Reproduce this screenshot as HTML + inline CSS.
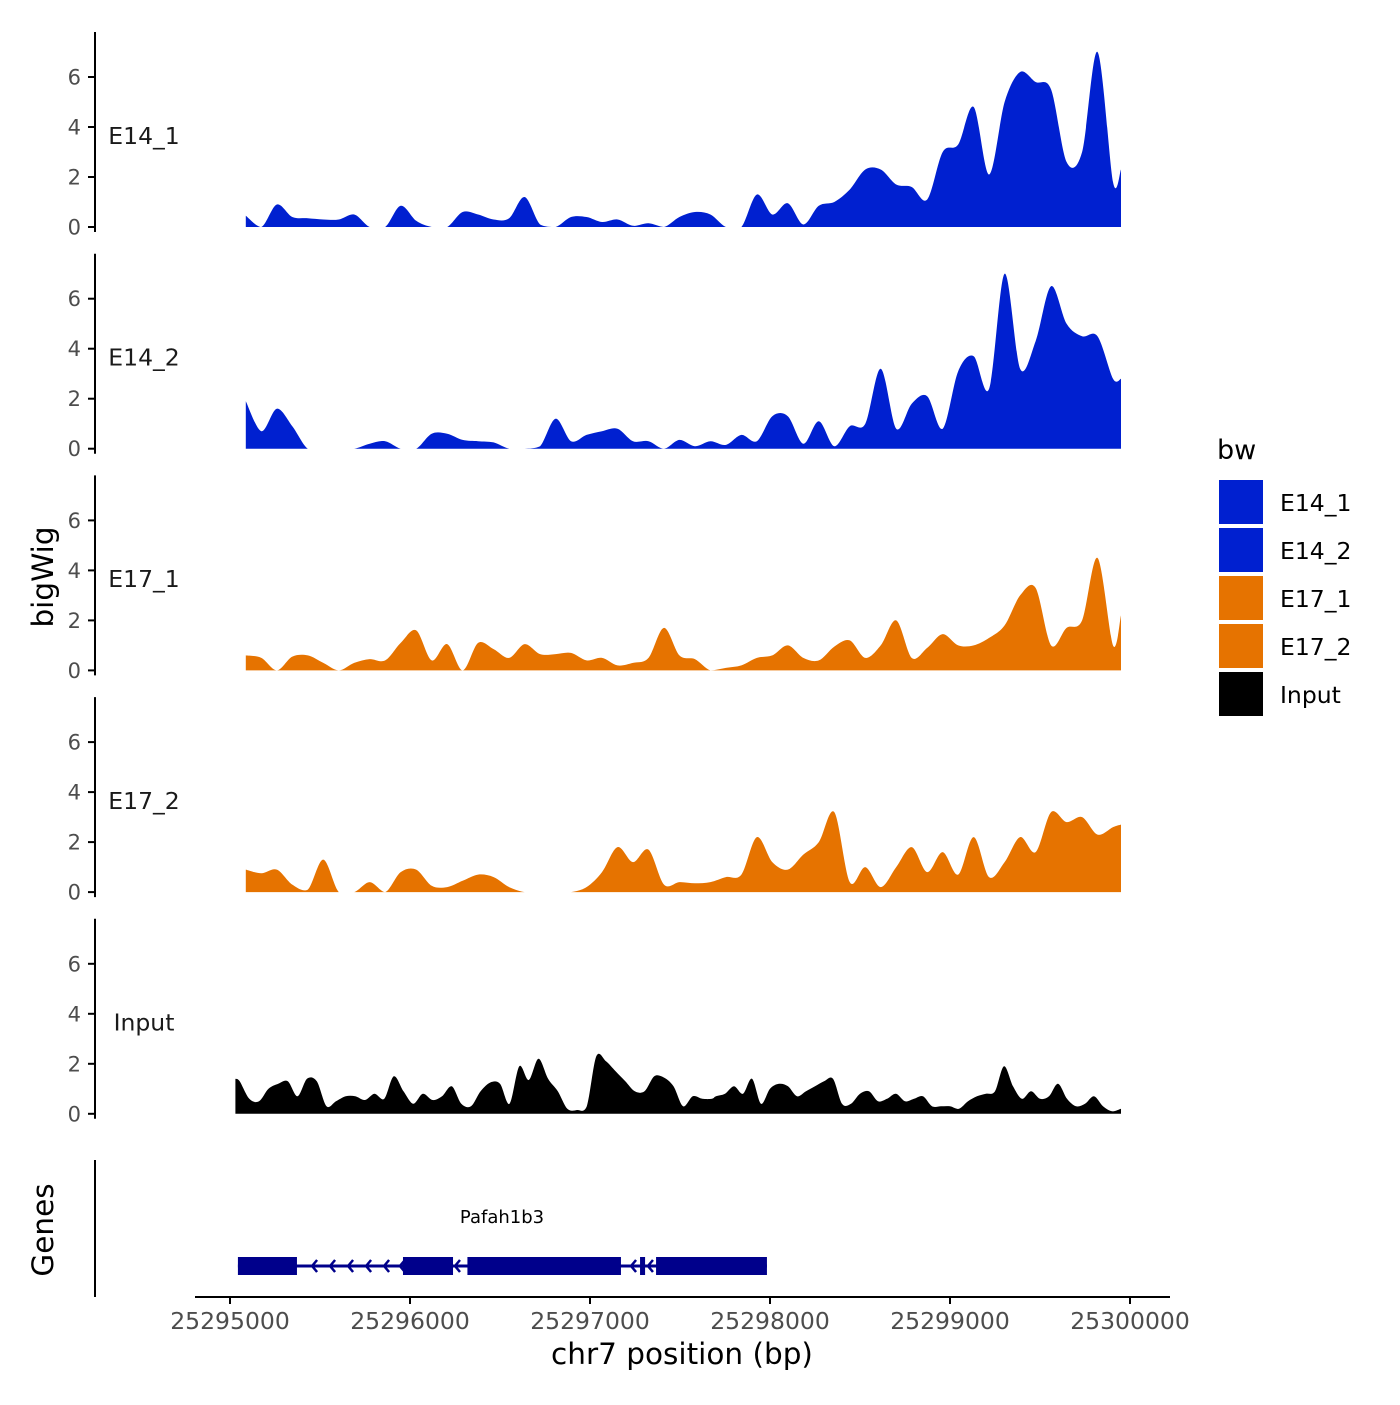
<!DOCTYPE html>
<html><head><meta charset="utf-8"><style>
body{margin:0;background:#fff;}
svg text{font-family:"DejaVu Sans","Liberation Sans",sans-serif;}
</style></head><body>
<svg id="chart" width="1400" height="1400" viewBox="0 0 1400 1400" xmlns="http://www.w3.org/2000/svg"></svg>
<script>
const sampleIdx = [1,2,3,4,5,6,7,8,9,10,11,12,13,14,15,16,17,18,19,20,21,22,23,24,25,26,27,28,29,30,31,32,33,34,35,36,37,38,39,40,41,42,43,44,45,46,47,48,49,50,51,52,53,54,55,56,57];
const endPos = 25299950;
const e14_1 = [0.45,0,0.9,0.4,0.35,0.3,0.3,0.5,0,0,0.85,0.25,0,0,0.6,0.5,0.3,0.35,1.2,0.1,0,0.4,0.4,0.2,0.3,0.05,0.15,0,0.4,0.6,0.5,0,0,1.3,0.5,0.95,0.1,0.85,1.0,1.5,2.3,2.3,1.7,1.6,1.1,3.0,3.3,4.8,2.1,5.0,6.2,5.8,5.5,2.6,3.0,7.0,1.8,2.3];
const e14_2 = [1.9,0.7,1.6,0.9,0,0,0,0,0.2,0.3,0,0,0.6,0.6,0.35,0.3,0.25,0,0,0.1,1.2,0.3,0.55,0.7,0.8,0.3,0.3,0,0.35,0.1,0.3,0.15,0.55,0.3,1.3,1.3,0.2,1.1,0.1,0.9,1.0,3.2,0.8,1.8,2.1,0.8,3.1,3.7,2.4,7.0,3.2,4.3,6.5,5.0,4.5,4.5,2.8,2.8];
const e17_1 = [0.6,0.5,0,0.55,0.6,0.3,0,0.3,0.45,0.4,1.1,1.6,0.4,1.05,0,1.1,0.85,0.5,1.05,0.65,0.65,0.7,0.4,0.5,0.2,0.3,0.5,1.7,0.6,0.45,0,0.1,0.2,0.5,0.6,1.0,0.5,0.4,0.95,1.2,0.5,1.0,2.0,0.5,0.9,1.45,1.0,1.0,1.3,1.8,3.0,3.3,1.0,1.7,2.0,4.5,1.0,2.2];
const e17_2 = [0.9,0.75,0.9,0.3,0.1,1.3,0,0,0.4,0,0.8,0.9,0.25,0.2,0.45,0.7,0.6,0.2,0,0,0,0,0.2,0.8,1.8,1.2,1.7,0.3,0.4,0.35,0.4,0.6,0.7,2.2,1.2,0.9,1.5,2.0,3.2,0.4,1.0,0.2,1.0,1.8,0.8,1.6,0.7,2.2,0.6,1.2,2.2,1.6,3.2,2.8,3.0,2.3,2.6,2.7];
const inputPos = [25295030,25295054,25295107,25295161,25295214,25295268,25295321,25295375,25295428,25295482,25295536,25295589,25295643,25295696,25295750,25295803,25295857,25295910,25295964,25296018,25296071,25296125,25296178,25296232,25296285,25296339,25296392,25296446,25296500,25296553,25296607,25296660,25296714,25296767,25296821,25296874,25296928,25296982,25297035,25297089,25297142,25297196,25297249,25297303,25297357,25297410,25297464,25297517,25297571,25297624,25297678,25297700,25297750,25297800,25297850,25297900,25297950,25298000,25298050,25298100,25298150,25298200,25298250,25298300,25298350,25298400,25298450,25298500,25298550,25298600,25298650,25298700,25298750,25298800,25298850,25298900,25298950,25299000,25299050,25299100,25299150,25299200,25299250,25299300,25299350,25299400,25299450,25299500,25299550,25299600,25299650,25299700,25299750,25299800,25299850,25299900,25299950];
const inputVals = [1.4,1.3,0.6,0.5,1.0,1.2,1.3,0.7,1.4,1.3,0.3,0.5,0.7,0.7,0.55,0.8,0.6,1.5,0.9,0.4,0.8,0.55,0.7,1.1,0.4,0.3,0.9,1.25,1.2,0.4,1.9,1.35,2.2,1.4,0.9,0.2,0.15,0.3,2.3,2.1,1.7,1.3,0.9,0.9,1.5,1.45,1.1,0.3,0.7,0.6,0.6,0.7,0.8,1.1,0.8,1.4,0.4,1.0,1.2,1.1,0.7,0.9,1.1,1.3,1.4,0.4,0.4,0.8,0.9,0.5,0.6,0.8,0.5,0.6,0.7,0.3,0.3,0.3,0.2,0.5,0.7,0.8,0.9,1.9,1.1,0.6,0.9,0.6,0.7,1.2,0.6,0.3,0.4,0.7,0.3,0.1,0.2];
const trackNames = ["E14_1","E14_2","E17_1","E17_2","Input"];
const trackColors = ["#0020D0","#0020D0","#E67300","#E67300","#000000"];
const yTicks = [0,2,4,6];
const xTicks = [25295000,25296000,25297000,25298000,25299000,25300000];
const exonStarts = [25295044,25295961,25296319,25297278,25297367];
const exonEnds = [25295372,25296239,25297172,25297306,25297983];
const arrowPos = [25295456,25295556,25295656,25295756,25295856,25295944,25296250,25297228,25297322];
const geneStart = 25295044, geneEnd = 25297983;

const svg = document.getElementById('chart');
const NS = 'http://www.w3.org/2000/svg';
function mk(tag, attrs, parent){const e=document.createElementNS(NS,tag);for(const k in attrs)e.setAttribute(k,attrs[k]);(parent||svg).appendChild(e);return e;}
const X = bp => 230 + (bp - 25295000) * 0.18;
const base0 = 227, panelStep = 221.7, unit = 25;
const Y = (v, i) => base0 + panelStep * i - v * unit;
const mainPos = sampleIdx.map(k => 25295002 + 86.03 * k).concat([endPos]);
const series = [e14_1, e14_2, e17_1, e17_2, inputVals];

series.forEach((vals, i) => {
  const pos = i === 4 ? inputPos : mainPos;
  const b = base0 + panelStep * i;
  const pts = vals.map((v, j) => [X(pos[j]), Y(Math.max(0, v), i)]);
  let d = 'M' + pts[0][0].toFixed(1) + ',' + b + 'L' + pts[0][0].toFixed(1) + ',' + pts[0][1].toFixed(1);
  for (let j = 0; j < pts.length - 1; j++) {
    const p0 = pts[Math.max(0, j - 1)], p1 = pts[j], p2 = pts[j + 1], p3 = pts[Math.min(pts.length - 1, j + 2)];
    const t = 0.16;
    const c1x = p1[0] + (p2[0] - p0[0]) * t, c1y = Math.min(b, p1[1] + (p2[1] - p0[1]) * t);
    const c2x = p2[0] - (p3[0] - p1[0]) * t, c2y = Math.min(b, p2[1] - (p3[1] - p1[1]) * t);
    d += 'C' + c1x.toFixed(1) + ',' + c1y.toFixed(1) + ' ' + c2x.toFixed(1) + ',' + c2y.toFixed(1) + ' ' + p2[0].toFixed(1) + ',' + p2[1].toFixed(1);
  }
  d += 'L' + pts[pts.length - 1][0].toFixed(1) + ',' + b + 'Z';
  const p = mk('path', {d: d, fill: trackColors[i]});
  
  
  const ax = mk('line', {x1:95, x2:95, y1:b-195, y2:b+5, stroke:'#000', 'stroke-width':2});
  
  
  yTicks.forEach(t => {
    const yy = Y(t, i);
    const tk = mk('line', {x1:88, x2:95, y1:yy, y2:yy, stroke:'#000', 'stroke-width':2});
    
    
    const tl = mk('text', {x:81, y:yy+7.5, 'text-anchor':'end', 'font-size':21, fill:'#4d4d4d'});
    tl.textContent = t;
    
    
  });
  const lab = mk('text', {x:144, y:Y(3.65, i)+8, 'text-anchor':'middle', 'font-size':23.5, fill:'#1a1a1a'});
  lab.textContent = trackNames[i];
  
  
});

const gax = mk('line', {x1:95, x2:95, y1:1160, y2:1297, stroke:'#000', 'stroke-width':2});


const gl = mk('line', {x1:X(geneStart), x2:X(geneEnd), y1:1266, y2:1266, stroke:'#00008B', 'stroke-width':3});


exonStarts.forEach((s, j) => {
  const r = mk('rect', {x:X(s), y:1257, width:X(exonEnds[j])-X(s), height:18, fill:'#00008B'});
  
  
});
arrowPos.forEach(a => {
  const xx = X(a);
  const ar = mk('path', {d:`M${xx+5},${1260}L${xx},${1266}L${xx+5},${1272}`, fill:'none', stroke:'#00008B', 'stroke-width':2.5});
  
  
});
const gn = mk('text', {x:502, y:1223, 'text-anchor':'middle', 'font-size':18, fill:'#000', 'font-family':'"DejaVu Sans Mono",monospace'});
gn.textContent = 'Pafah1b3';



const xa = mk('line', {x1:195, x2:1170, y1:1297, y2:1297, stroke:'#000', 'stroke-width':2});


xTicks.forEach(t => {
  const xx = X(t);
  const tk = mk('line', {x1:xx, x2:xx, y1:1297, y2:1304, stroke:'#000', 'stroke-width':2});
  
  
  const tl = mk('text', {x:xx, y:1329, 'text-anchor':'middle', 'font-size':23.5, fill:'#4d4d4d'});
  tl.textContent = t;
  
  
});
const xt = mk('text', {x:682, y:1364, 'text-anchor':'middle', 'font-size':29.5, fill:'#000'});
xt.textContent = 'chr7 position (bp)';


const yt = mk('text', {x:0, y:0, 'text-anchor':'middle', 'font-size':29.5, fill:'#000', transform:'translate(53,577) rotate(-90)'});
yt.textContent = 'bigWig';


const gt = mk('text', {x:0, y:0, 'text-anchor':'middle', 'font-size':29.5, fill:'#000', transform:'translate(53,1230) rotate(-90)'});
gt.textContent = 'Genes';



const lt = mk('text', {x:1217, y:459, 'font-size':27, fill:'#000'});
lt.textContent = 'bw';


trackNames.forEach((n, i) => {
  const yy = 480 + 48 * i;
  const r = mk('rect', {x:1219, y:yy, width:44, height:44, fill:trackColors[i]});
  
  
  const t = mk('text', {x:1280, y:yy+31, 'font-size':23.5, fill:'#000'});
  t.textContent = n;
  
  
});
</script>
</body></html>
